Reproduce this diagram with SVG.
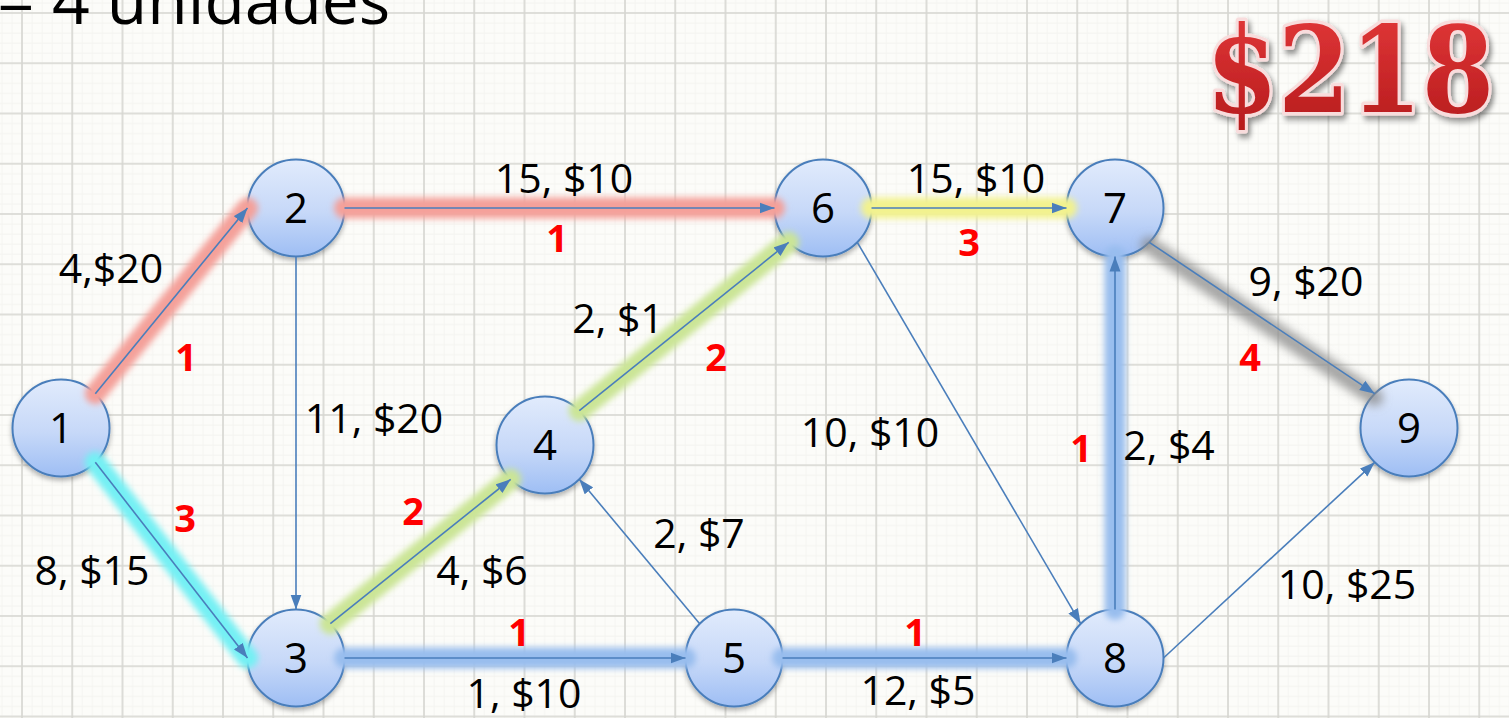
<svg xmlns="http://www.w3.org/2000/svg" width="1509" height="718" viewBox="0 0 1509 718">
<style>
.lbl{font-family:"Open Sans","Liberation Sans",sans-serif;font-size:41px;fill:#000;text-anchor:middle}
.red{font-family:"Open Sans","Liberation Sans",sans-serif;font-size:38px;font-weight:bold;fill:#ff0000;text-anchor:middle}
.num{font-family:"Open Sans","Liberation Sans",sans-serif;font-size:42px;fill:#000;text-anchor:middle}
.node circle{fill:url(#ng);stroke:#4a7ebb;stroke-width:2;filter:url(#shadow)}
.edge{stroke:#4a7ebb;stroke-width:1.6;fill:none;marker-end:url(#arr)}
.glow{fill:none;stroke-linecap:round;stroke-width:21;filter:url(#blur)}
</style>
<defs>
<pattern id="minor" patternUnits="userSpaceOnUse" x="21" y="12" width="10.05" height="10.05">
<path d="M1,0 V10.05 M0,1 H10.05" stroke="#f5f5f1" stroke-width="1"/>
</pattern>
<pattern id="major" patternUnits="userSpaceOnUse" x="21" y="12" width="50.25" height="50.25">
<path d="M1,0 V50.25 M0,1 H50.25" stroke="#d6d6d1" stroke-width="1.6"/>
</pattern>
<linearGradient id="ng" x1="0" y1="0" x2="0" y2="1">
<stop offset="0" stop-color="#e1ebfc"/>
<stop offset="0.55" stop-color="#c6d8f8"/>
<stop offset="1" stop-color="#9ebef4"/>
</linearGradient>
<linearGradient id="rg" x1="0" y1="0" x2="0" y2="1">
<stop offset="0" stop-color="#e5393a"/>
<stop offset="1" stop-color="#b3191b"/>
</linearGradient>
<filter id="shadow" x="-20%" y="-20%" width="140%" height="150%">
<feDropShadow dx="0" dy="3" stdDeviation="2.5" flood-color="#000" flood-opacity="0.3"/>
</filter>
<filter id="blur" filterUnits="userSpaceOnUse" x="0" y="0" width="1509" height="718">
<feGaussianBlur stdDeviation="3"/>
</filter>
<filter id="blur2" filterUnits="userSpaceOnUse" x="0" y="0" width="1509" height="718">
<feGaussianBlur stdDeviation="5"/>
</filter>
<filter id="logo" x="-10%" y="-10%" width="130%" height="130%">
<feDropShadow dx="3" dy="4" stdDeviation="3" flood-color="#000" flood-opacity="0.45"/>
</filter>
<marker id="arr" markerUnits="userSpaceOnUse" markerWidth="16" markerHeight="12" refX="15" refY="6" orient="auto">
<path d="M0,0.5 L15,6 L0,11.5 z" fill="#4a7ebb"/>
</marker>
</defs>

<rect width="1509" height="718" fill="#fcfcf9"/>
<rect width="1509" height="718" fill="url(#minor)"/>
<rect width="1509" height="718" fill="url(#major)"/>

<text x="-3" y="24" font-family="Open Sans, Liberation Sans, sans-serif" font-size="66" fill="#000">= 4 unidades</text>

<g id="logo-total">
<text transform="translate(1206,112) scale(0.87,1)" x="0" y="0" font-family="DejaVu Serif, Liberation Serif, serif" font-weight="bold" font-size="119" fill="url(#rg)" stroke="#f8dcdc" stroke-width="7" stroke-linejoin="round" paint-order="stroke" filter="url(#logo)">$218</text>
</g>

<g id="node-1" class="node"><circle cx="61" cy="428" r="48.5"/><text class="num" x="61" y="443">1</text></g>
<g id="node-2" class="node"><circle cx="296" cy="208" r="48.5"/><text class="num" x="296" y="223">2</text></g>
<g id="node-3" class="node"><circle cx="296" cy="658" r="48.5"/><text class="num" x="296" y="673">3</text></g>
<g id="node-4" class="node"><circle cx="545" cy="445" r="48.5"/><text class="num" x="545" y="460">4</text></g>
<g id="node-5" class="node"><circle cx="734" cy="658" r="48.5"/><text class="num" x="734" y="673">5</text></g>
<g id="node-6" class="node"><circle cx="823" cy="208" r="48.5"/><text class="num" x="823" y="223">6</text></g>
<g id="node-7" class="node"><circle cx="1115" cy="208" r="48.5"/><text class="num" x="1115" y="223">7</text></g>
<g id="node-8" class="node"><circle cx="1115" cy="658" r="48.5"/><text class="num" x="1115" y="673">8</text></g>
<g id="node-9" class="node"><circle cx="1409" cy="428" r="48.5"/><text class="num" x="1409" y="443">9</text></g>

<g id="highlights">
<path class="glow" stroke="#f4a09a" d="M95.3,393.7 L247.5,208 M344.5,208 L774.5,208"/>
<path class="glow" stroke="#74f0f4" d="M95.3,462.3 L247.5,658"/>
<path class="glow" stroke="#cbe596" d="M330.3,623.7 L510.7,479.3 M579.3,410.7 L788.7,242.3"/>
<path class="glow" stroke="#f2f28e" d="M871.5,208 L1066.5,208"/>
<path class="glow" stroke="#98bdee" d="M344.5,658 L685.5,658 M782.5,658 L1066.5,658 M1115,609.5 L1115,256.5"/>
<path fill="none" stroke="#8a8a8a" stroke-width="17" stroke-linecap="round" stroke-opacity="0.75" filter="url(#blur2)" d="M1149.3,245.3 L1374.7,397.7"/>
</g>

<g id="connectors">
<line class="edge" x1="95.3" y1="393.7" x2="247.5" y2="208"/>
<line class="edge" x1="95.3" y1="462.3" x2="247.5" y2="658"/>
<line class="edge" x1="296" y1="256.5" x2="296" y2="609.5"/>
<line class="edge" x1="344.5" y1="208" x2="774.5" y2="208"/>
<line class="edge" x1="330.3" y1="623.7" x2="510.7" y2="479.3"/>
<line class="edge" x1="344.5" y1="658" x2="685.5" y2="658"/>
<line class="edge" x1="699.7" y1="623.7" x2="579.3" y2="479.3"/>
<line class="edge" x1="579.3" y1="410.7" x2="788.7" y2="242.3"/>
<line class="edge" x1="782.5" y1="658" x2="1066.5" y2="658"/>
<line class="edge" x1="871.5" y1="208" x2="1066.5" y2="208"/>
<line class="edge" x1="857.3" y1="242.3" x2="1080.7" y2="623.7"/>
<line class="edge" x1="1115" y1="609.5" x2="1115" y2="256.5"/>
<line class="edge" x1="1149.3" y1="242.3" x2="1374.7" y2="393.7"/>
<line class="edge" x1="1163.5" y1="658" x2="1374.7" y2="462.3"/>
</g>

<g id="edge-labels">
<text class="lbl" x="111" y="283">4,$20</text>
<text class="lbl" x="92" y="585">8, $15</text>
<text class="lbl" x="374" y="433">11, $20</text>
<text class="lbl" x="564" y="193">15, $10</text>
<text class="lbl" x="618" y="333">2, $1</text>
<text class="lbl" x="482" y="585">4, $6</text>
<text class="lbl" x="699" y="548">2, $7</text>
<text class="lbl" x="524" y="708">1, $10</text>
<text class="lbl" x="918" y="705">12, $5</text>
<text class="lbl" x="870" y="447">10, $10</text>
<text class="lbl" x="976" y="193">15, $10</text>
<text class="lbl" x="1306" y="296">9, $20</text>
<text class="lbl" x="1169" y="460">2, $4</text>
<text class="lbl" x="1347" y="599">10, $25</text>
</g>

<g id="flow-labels">
<text class="red" x="186" y="371">1</text>
<text class="red" x="185" y="532">3</text>
<text class="red" x="557" y="252">1</text>
<text class="red" x="413" y="525">2</text>
<text class="red" x="519" y="646">1</text>
<text class="red" x="716" y="371">2</text>
<text class="red" x="915" y="646">1</text>
<text class="red" x="969" y="256">3</text>
<text class="red" x="1081" y="462">1</text>
<text class="red" x="1250" y="371">4</text>
</g>
</svg>
